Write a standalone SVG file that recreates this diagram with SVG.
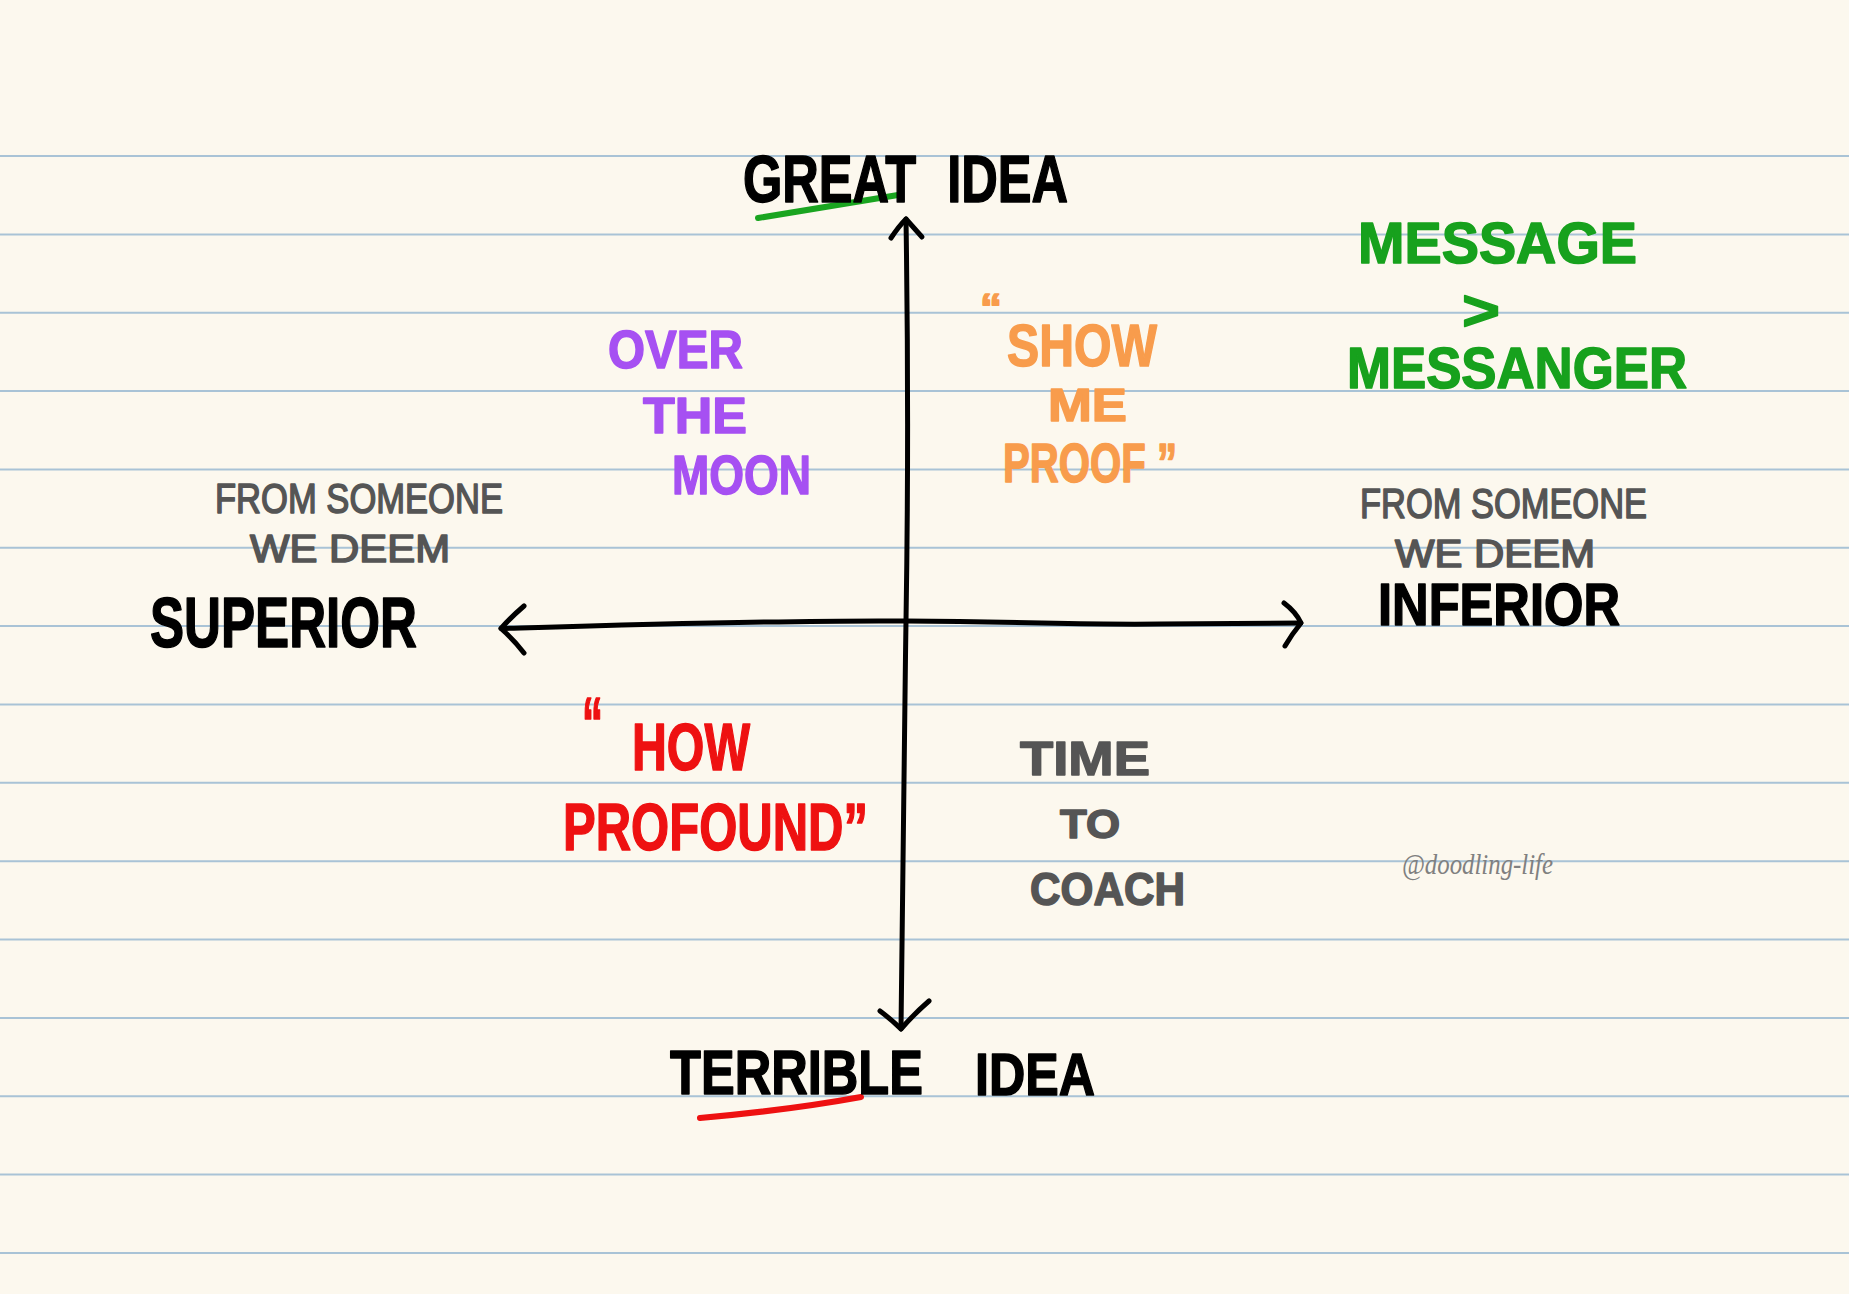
<svg xmlns="http://www.w3.org/2000/svg" width="1849" height="1294" viewBox="0 0 1849 1294">
<style>
.rule{stroke:#a9c3d6;stroke-width:2;}
.axis{fill:none;stroke:#000;stroke-width:5;stroke-linecap:round;stroke-linejoin:round;}
.t{font-family:"Liberation Sans","DejaVu Sans",sans-serif;font-weight:700;stroke-width:1.5;stroke-linejoin:round;}
.thin{font-family:"Liberation Sans","DejaVu Sans",sans-serif;font-weight:400;stroke-width:1.6;stroke-linejoin:round;}
.blk{fill:#000;stroke:#000;}
.gray{fill:#555;stroke:#555;}
.green{fill:#17a11d;stroke:#17a11d;}
.purple{fill:#a650f2;stroke:#a650f2;}
.orange{fill:#f89c4c;stroke:#f89c4c;}
.red{fill:#ee1111;stroke:#ee1111;}
.ul{fill:none;stroke-width:6;stroke-linecap:round;}
</style>
<rect width="1849" height="1294" fill="#fcf8ee"/>
<g id="ruled-lines">
<line class="rule" x1="0" y1="156" x2="1849" y2="156"/>
<line class="rule" x1="0" y1="234.4" x2="1849" y2="234.4"/>
<line class="rule" x1="0" y1="312.7" x2="1849" y2="312.7"/>
<line class="rule" x1="0" y1="391" x2="1849" y2="391"/>
<line class="rule" x1="0" y1="469.4" x2="1849" y2="469.4"/>
<line class="rule" x1="0" y1="547.8" x2="1849" y2="547.8"/>
<line class="rule" x1="0" y1="626.1" x2="1849" y2="626.1"/>
<line class="rule" x1="0" y1="704.5" x2="1849" y2="704.5"/>
<line class="rule" x1="0" y1="782.8" x2="1849" y2="782.8"/>
<line class="rule" x1="0" y1="861.2" x2="1849" y2="861.2"/>
<line class="rule" x1="0" y1="939.5" x2="1849" y2="939.5"/>
<line class="rule" x1="0" y1="1017.9" x2="1849" y2="1017.9"/>
<line class="rule" x1="0" y1="1096.2" x2="1849" y2="1096.2"/>
<line class="rule" x1="0" y1="1174.6" x2="1849" y2="1174.6"/>
<line class="rule" x1="0" y1="1252.9" x2="1849" y2="1252.9"/>
</g>
<g id="connectors">
<path class="axis" d="M 501 628.5 C 620 625, 780 620, 906 621 C 1040 622, 1080 625, 1160 624 L 1301 623"/>
<path class="axis" d="M 524 606 Q 510 618 501 628.5 Q 514 640 524 653"/>
<path class="axis" d="M 1284 603 Q 1296 612 1301 623 Q 1292 634 1285 646"/>
<path class="axis" d="M 906 219 C 908 350, 908 500, 906 621 C 904 760, 902 900, 901 1029"/>
<path class="axis" d="M 891 238 Q 899 226 906 219 Q 914 228 922 237"/>
<path class="axis" d="M 880 1011 Q 892 1020 901 1029 Q 914 1014 929 1001"/>
</g>
<g id="great-idea">
<path class="ul" stroke="#1aa520" d="M 758 218 Q 830 206 898 195"/>
<text class="t blk" x="743" y="202" font-size="66" word-spacing="22" textLength="325" lengthAdjust="spacingAndGlyphs">GREAT IDEA</text>
</g>
<g id="terrible-idea">
<path class="ul" stroke="#ee1111" d="M 700 1118 Q 790 1110 861 1097"/>
<text class="t blk"><tspan x="670" y="1094" font-size="63" textLength="253" lengthAdjust="spacingAndGlyphs">TERRIBLE</tspan><tspan x="975" y="1095" font-size="60" textLength="120" lengthAdjust="spacingAndGlyphs">IDEA</tspan></text>
</g>
<g id="superior">
<text class="thin gray"><tspan x="215" y="513" font-size="43" textLength="288" lengthAdjust="spacingAndGlyphs">FROM SOMEONE</tspan><tspan x="250" y="562" font-size="38" textLength="200" lengthAdjust="spacingAndGlyphs">WE DEEM</tspan></text>
<text class="t blk" x="150" y="647" font-size="70" textLength="267" lengthAdjust="spacingAndGlyphs">SUPERIOR</text>
</g>
<g id="inferior">
<text class="thin gray"><tspan x="1360" y="518" font-size="43" textLength="287" lengthAdjust="spacingAndGlyphs">FROM SOMEONE</tspan><tspan x="1395" y="567" font-size="38" textLength="200" lengthAdjust="spacingAndGlyphs">WE DEEM</tspan></text>
<text class="t blk" x="1378" y="625" font-size="59" textLength="242" lengthAdjust="spacingAndGlyphs">INFERIOR</text>
</g>
<g id="message-messanger">
<text class="t green"><tspan x="1358" y="263" font-size="57" textLength="279" lengthAdjust="spacingAndGlyphs">MESSAGE</tspan><tspan x="1462" y="330" font-size="58" textLength="38" lengthAdjust="spacingAndGlyphs">&gt;</tspan><tspan x="1347" y="388" font-size="57" textLength="340" lengthAdjust="spacingAndGlyphs">MESSANGER</tspan></text>
</g>
<g id="over-the-moon">
<text class="t purple"><tspan x="608" y="368" font-size="53" textLength="135" lengthAdjust="spacingAndGlyphs">OVER</tspan><tspan x="643" y="433" font-size="50" textLength="104" lengthAdjust="spacingAndGlyphs">THE</tspan><tspan x="672" y="494" font-size="56" textLength="139" lengthAdjust="spacingAndGlyphs">MOON</tspan></text>
</g>
<g id="show-me-proof">
<text class="t orange"><tspan x="980" y="322" font-size="40" textLength="22" lengthAdjust="spacingAndGlyphs">“</tspan><tspan x="1007" y="366" font-size="60" textLength="150" lengthAdjust="spacingAndGlyphs">SHOW</tspan><tspan x="1048" y="421" font-size="46" textLength="79" lengthAdjust="spacingAndGlyphs">ME</tspan><tspan x="1003" y="482" font-size="55" textLength="174" lengthAdjust="spacingAndGlyphs">PROOF ”</tspan></text>
</g>
<g id="how-profound">
<text class="t red"><tspan x="582" y="747" font-size="70" textLength="21" lengthAdjust="spacingAndGlyphs">“</tspan><tspan x="632" y="770" font-size="67" textLength="118" lengthAdjust="spacingAndGlyphs">HOW</tspan><tspan x="563" y="850" font-size="67" textLength="305" lengthAdjust="spacingAndGlyphs">PROFOUND”</tspan></text>
</g>
<g id="time-to-coach">
<text class="t gray"><tspan x="1020" y="775" font-size="49" textLength="130" lengthAdjust="spacingAndGlyphs">TIME</tspan><tspan x="1060" y="838" font-size="40" textLength="60" lengthAdjust="spacingAndGlyphs">TO</tspan><tspan x="1030" y="905" font-size="46" textLength="155" lengthAdjust="spacingAndGlyphs">COACH</tspan></text>
</g>
<g id="signature">
<text x="1402" y="874" font-family="Liberation Serif, serif" font-style="italic" font-size="30" fill="#808080" textLength="151" lengthAdjust="spacingAndGlyphs">@doodling-life</text>
</g>
</svg>
